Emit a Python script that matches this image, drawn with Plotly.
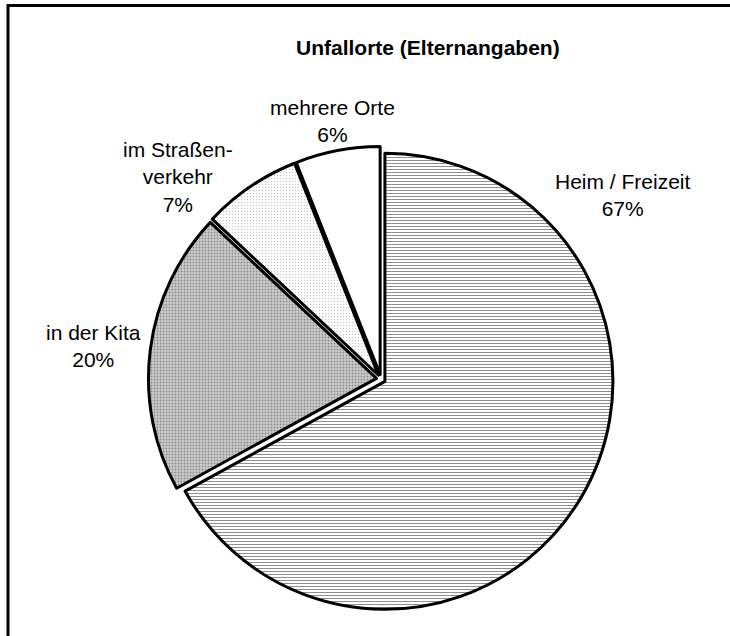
import plotly.graph_objects as go

W, H = 730, 636

# ---- data ----
categories = ["Heim / Freizeit", "in der Kita", "im Straßenverkehr", "mehrere Orte"]
values = [67, 20, 7, 6]
label_texts = ["Heim / Freizeit<br>67%", "in der Kita<br>20%", "im Straßen-<br>verkehr<br>7%", "mehrere Orte<br>6%"]
title_text = "Unfallorte (Elternangaben)"

# ---- styling ----
label_pos = [(623, 195), (93, 346), (178, 177), (332, 121)]  # pixel centres
pattern_shapes = ["-", ".", ".", ""]
pattern_fg = ["#8f8f8f", "#8a8a8a", "#c8c8c8", "#ffffff"]
pattern_bg = ["#ffffff", "#cdcdcd", "#ffffff", "#ffffff"]
pattern_solidity = [0.35, 0.3, 0.18, 0.1]
FONT = "Liberation Sans, Arial, sans-serif"

# pie geometry: centre (381, 379), r=228, pull 0.02
pull = 0.02
r = 228
cx, cy = 381, 379
half = r * (1 + pull)
dom_x = [(cx - half) / W, (cx + half) / W]
dom_y = [1 - (cy + half) / H, 1 - (cy - half) / H]

fig = go.Figure(go.Pie(
    labels=categories,
    values=values,
    sort=False,
    direction="clockwise",
    rotation=0,
    pull=[pull] * len(values),
    textinfo="none",
    hoverinfo="none",
    showlegend=False,
    domain=dict(x=dom_x, y=dom_y),
    marker=dict(
        colors=pattern_bg,
        line=dict(color="black", width=3),
        pattern=dict(shape=pattern_shapes, fgcolor=pattern_fg, bgcolor=pattern_bg,
                     size=3, solidity=pattern_solidity, fillmode="replace"),
    ),
))

annotations = []
for txt, (px, py) in zip(label_texts, label_pos):
    annotations.append(dict(
        x=px / W, y=1 - py / H, xref="paper", yref="paper",
        text=txt, showarrow=False, xanchor="center", yanchor="middle",
        align="center", font=dict(family=FONT, size=21, color="black"),
    ))
annotations.append(dict(
    x=427.5 / W, y=1 - 48 / H, xref="paper", yref="paper",
    text="<b>" + title_text + "</b>", showarrow=False, xanchor="center", yanchor="middle",
    font=dict(family=FONT, size=21, color="black"),
))

fig.update_layout(
    width=W, height=H,
    margin=dict(l=0, r=0, t=0, b=0),
    paper_bgcolor="white",
    plot_bgcolor="white",
    annotations=annotations,
    shapes=[dict(type="rect", xref="paper", yref="paper",
                 x0=8 / W, x1=1.2, y0=-0.2, y1=1 - 5.5 / H,
                 line=dict(color="black", width=3), fillcolor="rgba(0,0,0,0)")],
)

fig.write_html(
    "out.html",
    config={"displayModeBar": False, "staticPlot": True},
    post_script="document.body.style.margin='0';document.body.style.overflow='hidden';",
)
